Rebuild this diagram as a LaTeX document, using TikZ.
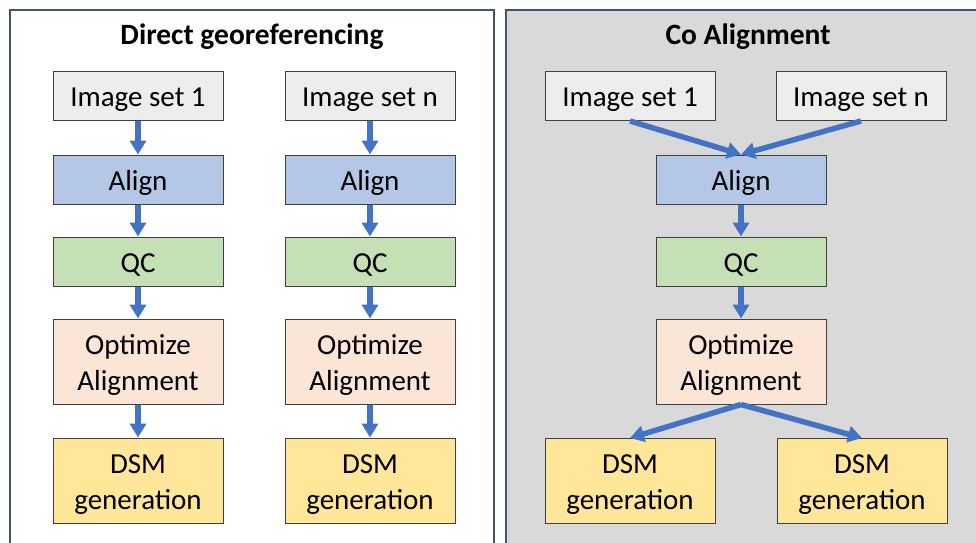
\documentclass[tikz,border=0pt]{standalone}
\usepackage{fontspec}
\setmainfont{Carlito}
\usetikzlibrary{arrows.meta}
\definecolor{panelborder}{HTML}{44546A}
\definecolor{panelgray}{HTML}{D9D9D9}
\definecolor{boxborder}{HTML}{404040}
\definecolor{imgfill}{HTML}{EDEDED}
\definecolor{alignfill}{HTML}{B4C7E7}
\definecolor{qcfill}{HTML}{C5E0B4}
\definecolor{optfill}{HTML}{FBE5D6}
\definecolor{dsmfill}{HTML}{FFE699}
\definecolor{arrowblue}{HTML}{4472C4}
\tikzset{
  flowbox/.style={draw=boxborder, line width=1pt, minimum width=170pt, inner sep=0pt, align=center,
    font=\fontsize{29}{36}\selectfont},
  onebox/.style={flowbox, minimum height=49pt, text height=24pt, text depth=2.2pt},
  twobox/.style={flowbox, minimum height=85pt, text height=60pt, text depth=2.2pt},
  flowarrow/.style={draw=arrowblue, line width=5.5pt, -{Triangle[width=16pt,length=14pt]}},
  paneltitle/.style={font=\fontsize{29.5}{36}\selectfont\bfseries, inner sep=0pt},
}
\begin{document}
\begin{tikzpicture}[x=1pt,y=-1pt]
\useasboundingbox (0,0) rectangle (976,542);
\fill[white] (0,0) rectangle (976,542);
% panels
\draw[panelborder, line width=1.5pt, fill=white] (10,10) rectangle (494,560);
\draw[panelborder, line width=1.5pt, fill=panelgray] (506,10) rectangle (990,560);
\node[paneltitle] (t1) at (252,37) {Direct georeferencing};
\node[paneltitle] (t2) at (748,37) {Co Alignment};
% left column 1
\node[onebox, fill=imgfill] (a1) at (138,96) {Image set 1};
\node[onebox, fill=alignfill] (b1) at (138,179.5) {Align};
\node[onebox, fill=qcfill] (c1) at (138,261.5) {QC};
\node[twobox, fill=optfill] (d1) at (138,361.5) {Optimize\\Alignment};
\node[twobox, fill=dsmfill] (e1) at (138,480.5) {DSM\\generation};
% left column 2
\node[onebox, fill=imgfill] (a2) at (370,96) {Image set n};
\node[onebox, fill=alignfill] (b2) at (370,179.5) {Align};
\node[onebox, fill=qcfill] (c2) at (370,261.5) {QC};
\node[twobox, fill=optfill] (d2) at (370,361.5) {Optimize\\Alignment};
\node[twobox, fill=dsmfill] (e2) at (370,480.5) {DSM\\generation};
% right panel
\node[onebox, fill=imgfill] (ra1) at (630,96) {Image set 1};
\node[onebox, fill=imgfill] (ra2) at (861,96) {Image set n};
\node[onebox, fill=alignfill] (rb) at (741,179.5) {Align};
\node[onebox, fill=qcfill] (rc) at (741,261.5) {QC};
\node[twobox, fill=optfill] (rd) at (741,361.5) {Optimize\\Alignment};
\node[twobox, fill=dsmfill] (re1) at (630,481) {DSM\\generation};
\node[twobox, fill=dsmfill] (re2) at (862,481) {DSM\\generation};
% arrows
\foreach \p/\q in {a1/b1,b1/c1,c1/d1,d1/e1,a2/b2,b2/c2,c2/d2,d2/e2,rb/rc,rc/rd}{
  \draw[flowarrow] (\p.south) -- (\q.north);
}
\draw[flowarrow] (ra1.south) -- (rb.north);
\draw[flowarrow] (ra2.south) -- (rb.north);
\draw[flowarrow] (rd.south) -- (re1.north);
\draw[flowarrow] (rd.south) -- (re2.north);
\end{tikzpicture}
\end{document}
